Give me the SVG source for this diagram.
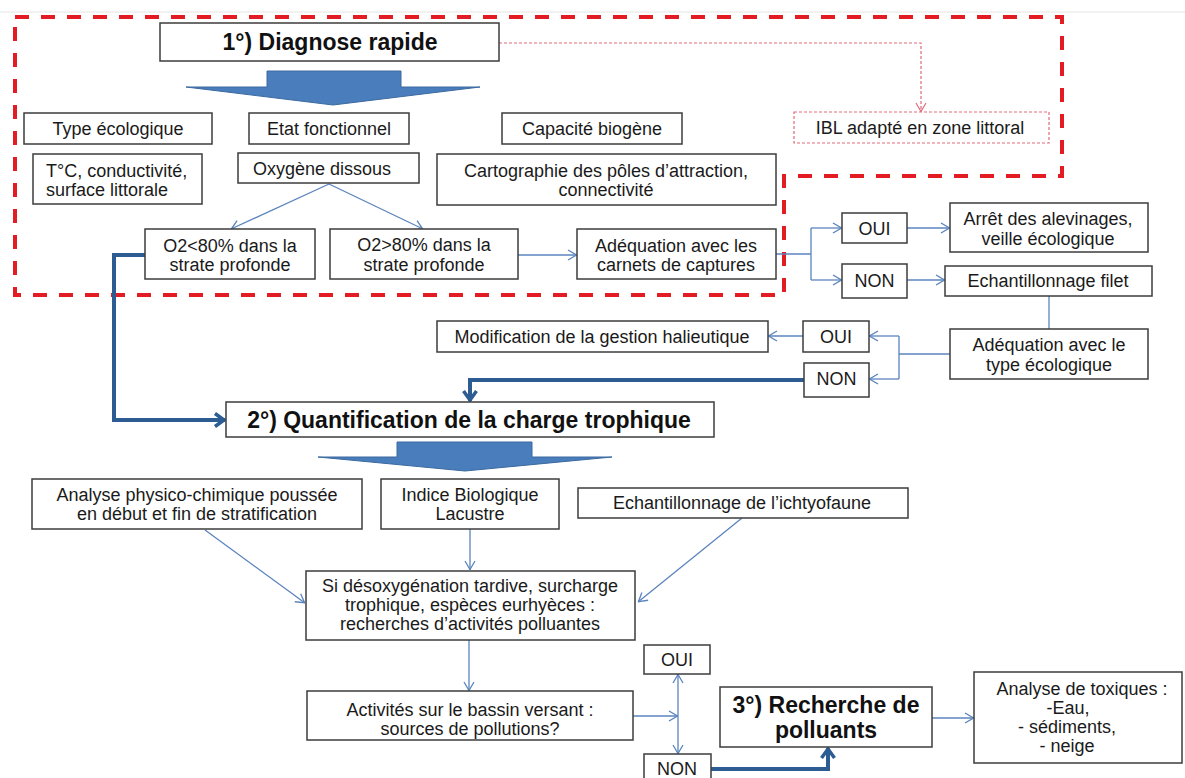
<svg xmlns="http://www.w3.org/2000/svg" width="1185" height="778" viewBox="0 0 1185 778">
<style>
.box{fill:#fff;stroke:#3c3c3c;stroke-width:1.5}
.t{font-family:"Liberation Sans",Arial,sans-serif;font-size:18px;fill:#1a1a1a;text-anchor:middle}
.l{text-anchor:start}
.h{font-family:"Liberation Sans",Arial,sans-serif;font-size:23px;font-weight:bold;fill:#111;text-anchor:middle}
.c{fill:none;stroke:#5b84be;stroke-width:1.3}
.k{fill:none;stroke:#2c5c92;stroke-width:4}
.blk{fill:#4a7dbb;stroke:#3b6aa0;stroke-width:1}
</style>
<defs>
<marker id="a" viewBox="0 0 10 12" refX="10" refY="6" markerWidth="10" markerHeight="12" markerUnits="userSpaceOnUse" orient="auto">
<path d="M1,1 L9.5,6 L1,11" fill="none" stroke="#5b84be" stroke-width="1.3"/>
</marker>
<marker id="p" viewBox="0 0 10 12" refX="10" refY="6" markerWidth="10" markerHeight="12" markerUnits="userSpaceOnUse" orient="auto">
<path d="M1,1 L9.5,6 L1,11" fill="none" stroke="#e06a7a" stroke-width="1.2"/>
</marker>
<marker id="k" viewBox="0 0 14 16" refX="12" refY="8" markerWidth="14" markerHeight="16" markerUnits="userSpaceOnUse" orient="auto">
<path d="M2,1.5 L11,8 L2,14.5" fill="none" stroke="#2c5c92" stroke-width="3.5"/>
</marker>
</defs>
<rect x="0" y="0" width="1185" height="778" fill="#fff"/>
<line x1="0" y1="12" x2="1185" y2="12" stroke="#e4e4e4" stroke-width="1"/>
<path d="M15,17 H1062 V176 H784 V295 H15 Z" fill="none" stroke="#e31b23" stroke-width="4" stroke-dasharray="14,12"/>

<g id="connectors">
<path class="c" d="M329,184 L231,229" marker-end="url(#a)"/>
<path class="c" d="M329,184 L423,229" marker-end="url(#a)"/>
<path class="c" d="M518,255 H577" marker-end="url(#a)"/>
<path class="c" d="M776,254 H811 M811,228 V280"/>
<path class="c" d="M811,228 H842" marker-end="url(#a)"/>
<path class="c" d="M811,280 H842" marker-end="url(#a)"/>
<path class="c" d="M907,228 H950" marker-end="url(#a)"/>
<path class="c" d="M907,280 H945" marker-end="url(#a)"/>
<path class="c" d="M1049,296 V329"/>
<path class="c" d="M950,354 H899 M899,336 V379"/>
<path class="c" d="M899,336 H869" marker-end="url(#a)"/>
<path class="c" d="M899,379 H869" marker-end="url(#a)"/>
<path class="c" d="M803,336 H768" marker-end="url(#a)"/>
<path class="c" d="M205,530 L305,603" marker-end="url(#a)"/>
<path class="c" d="M470,529 V570" marker-end="url(#a)"/>
<path class="c" d="M742,518 L638,602" marker-end="url(#a)"/>
<path class="c" d="M469,640 V691" marker-end="url(#a)"/>
<path class="c" d="M633,716 H678" marker-end="url(#a)"/>
<path class="c" d="M678,716 V674" marker-end="url(#a)"/>
<path class="c" d="M678,716 V754" marker-end="url(#a)"/>
<path class="c" d="M932,718 H974" marker-end="url(#a)"/>
<path d="M499,43 H921 V112" fill="none" stroke="#e06a7a" stroke-width="1.2" stroke-dasharray="3,2" marker-end="url(#p)"/>
<path class="k" d="M145,255 H114 V420 H225" marker-end="url(#k)"/>
<path class="k" d="M804,380 H470 V401" marker-end="url(#k)"/>
<path class="k" d="M711,769 H828 V748" marker-end="url(#k)"/>
</g>

<polygon class="blk" points="267,71 401,71 401,87 480,87 333,105 186,87 267,87"/>
<polygon class="blk" points="397,442 532,442 532,457 612,457 465,471 318,457 397,457"/>

<g id="n-diag"><rect class="box" x="160" y="23" width="339" height="38"/><text class="h" x="330" y="50">1°) Diagnose rapide</text></g>
<g id="n-type"><rect class="box" x="24" y="113" width="188" height="31"/><text class="t" x="118" y="135">Type écologique</text></g>
<g id="n-etat"><rect class="box" x="249" y="113" width="160" height="31"/><text class="t" x="329" y="135">Etat fonctionnel</text></g>
<g id="n-capa"><rect class="box" x="502" y="113" width="180" height="31"/><text class="t" x="592" y="135">Capacité biogène</text></g>
<g id="n-ibl"><rect x="794" y="112" width="255" height="31" fill="#fff" stroke="#e06a7a" stroke-width="1.2" stroke-dasharray="3,2"/><text class="t" x="920" y="134">IBL adapté en zone littoral</text></g>
<g id="n-tc"><rect class="box" x="33" y="154" width="169" height="50"/><text class="t l" x="46" y="176.5">T°C, conductivité,</text><text class="t l" x="46" y="196">surface littorale</text></g>
<g id="n-oxy"><rect class="box" x="238" y="153" width="181" height="30"/><text class="t" x="322" y="174.5">Oxygène dissous</text></g>
<g id="n-carto"><rect class="box" x="437" y="154" width="339" height="51"/><text class="t" x="606" y="176.5">Cartographie des pôles d’attraction,</text><text class="t" x="606" y="196">connectivité</text></g>
<g id="n-o2lt"><rect class="box" x="145" y="229" width="170" height="50"/><text class="t" x="230" y="251.5">O2&lt;80% dans la</text><text class="t" x="230" y="271">strate profonde</text></g>
<g id="n-o2gt"><rect class="box" x="330" y="229" width="188" height="50"/><text class="t" x="424" y="251">O2&gt;80% dans la</text><text class="t" x="424" y="270.5">strate profonde</text></g>
<g id="n-adeq1"><rect class="box" x="577" y="229" width="199" height="50"/><text class="t" x="676" y="251.5">Adéquation avec les</text><text class="t" x="676" y="271">carnets de captures</text></g>
<g id="n-oui1"><rect class="box" x="842" y="213" width="65" height="30"/><text class="t" x="874.5" y="234.5">OUI</text></g>
<g id="n-non1"><rect class="box" x="842" y="264" width="65" height="34"/><text class="t" x="874.5" y="287">NON</text></g>
<g id="n-arret"><rect class="box" x="950" y="203" width="198" height="49"/><text class="t" x="1048" y="225">Arrêt des alevinages,</text><text class="t" x="1048" y="244.5">veille écologique</text></g>
<g id="n-echfil"><rect class="box" x="945" y="266" width="207" height="30"/><text class="t" x="1048" y="286.5">Echantillonnage filet</text></g>
<g id="n-modif"><rect class="box" x="437" y="321" width="331" height="31"/><text class="t" x="602" y="343">Modification de la gestion halieutique</text></g>
<g id="n-oui2"><rect class="box" x="803" y="321" width="66" height="31"/><text class="t" x="836" y="343">OUI</text></g>
<g id="n-non2"><rect class="box" x="804" y="363" width="65" height="34"/><text class="t" x="836.5" y="385">NON</text></g>
<g id="n-adeq2"><rect class="box" x="950" y="329" width="198" height="50"/><text class="t" x="1049" y="351">Adéquation avec le</text><text class="t" x="1049" y="371">type écologique</text></g>
<g id="n-quant"><rect class="box" x="226" y="402" width="488" height="35"/><text class="h" x="469" y="428">2°) Quantification de la charge trophique</text></g>
<g id="n-analyse"><rect class="box" x="32" y="479" width="330" height="50"/><text class="t" x="197" y="500.5">Analyse physico-chimique poussée</text><text class="t" x="197" y="520">en début et fin de stratification</text></g>
<g id="n-indice"><rect class="box" x="381" y="479" width="178" height="50"/><text class="t" x="470" y="500.5">Indice Biologique</text><text class="t" x="470" y="520">Lacustre</text></g>
<g id="n-ichtyo"><rect class="box" x="578" y="488" width="330" height="30"/><text class="t" x="742" y="509">Echantillonnage de l’ichtyofaune</text></g>
<g id="n-si"><rect class="box" x="306" y="571" width="329" height="69"/><text class="t" x="470" y="592">Si désoxygénation tardive, surcharge</text><text class="t" x="470" y="611">trophique, espèces eurhyèces :</text><text class="t" x="470" y="630">recherches d’activités polluantes</text></g>
<g id="n-activ"><rect class="box" x="307" y="691" width="326" height="49"/><text class="t" x="470" y="716">Activités sur le bassin versant :</text><text class="t" x="470" y="735">sources de pollutions?</text></g>
<g id="n-oui3"><rect class="box" x="644" y="645" width="66" height="29"/><text class="t" x="677" y="666">OUI</text></g>
<g id="n-non3"><rect class="box" x="644" y="754" width="67" height="30"/><text class="t" x="677" y="774.5">NON</text></g>
<g id="n-rech"><rect class="box" x="720" y="687" width="212" height="60"/><text class="h" x="826" y="713">3°) Recherche de</text><text class="h" x="826" y="738">polluants</text></g>
<g id="n-tox"><rect class="box" x="974" y="672" width="208" height="91"/><text class="t" x="1082" y="695">Analyse de toxiques :</text><text class="t" x="1068" y="714">-Eau,</text><text class="t" x="1067" y="733">- sédiments,</text><text class="t" x="1067" y="752">- neige</text></g>
</svg>
